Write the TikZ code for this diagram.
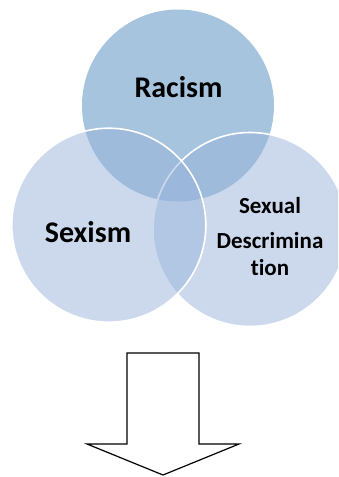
\documentclass[tikz,border=0pt]{standalone}
\usepackage{fontspec}
\setmainfont{Carlito}[Ligatures=NoCommon]
\begin{document}
\begin{tikzpicture}[x=1pt,y=-1pt,
  lbl/.style={font=\bfseries, text=black, anchor=base, inner sep=0pt},
  softcircle/.style={fill={rgb,255:red,153;green,180;blue,219}, fill opacity=0.5, draw=white, line width=1.6pt}]
\useasboundingbox (0,0) rectangle (338,477);
\clip (0,0) rectangle (338,477);
% top circle
\fill[fill={rgb,255:red,167;green,196;blue,223}] (178,105.5) circle[radius=96pt];
% right circle
\path[softcircle] (250,229.5) circle[radius=97pt];
% left circle
\path[softcircle] (108.8,225.2) circle[radius=97pt];
% labels
\node[lbl, font=\bfseries\fontsize{30}{30}\selectfont] (racism) at (178.5,97) {Racism};
\node[lbl, font=\bfseries\fontsize{30}{30}\selectfont] (sexism) at (88,242) {Sexism};
\node[lbl, font=\bfseries\fontsize{23}{23}\selectfont] (sd1) at (270,213) {Sexual};
\node[lbl, font=\bfseries\fontsize{23}{23}\selectfont] (sd2) at (270,248) {Descrimina};
\node[lbl, font=\bfseries\fontsize{23}{23}\selectfont] (sd3) at (270,275) {tion};
% arrow
\draw[black, fill=white, line width=1.2pt, line join=miter]
  (127,353) -- (199,353) -- (199,444) -- (239,444) -- (163,475) -- (87,444) -- (127,444) -- cycle;
\end{tikzpicture}
\end{document}
